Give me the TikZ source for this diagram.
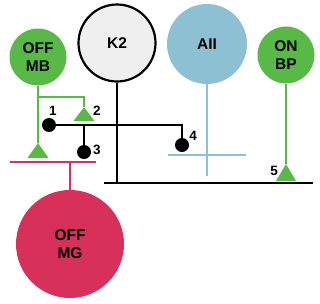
\documentclass[tikz,border=0pt]{standalone}
\usepackage{fontspec}
\setmainfont{Liberation Sans}
\usepackage{tikz}
\usetikzlibrary{calc}
\definecolor{rgGreen}{HTML}{58B947}
\definecolor{rgBlue}{HTML}{8DC0D3}
\definecolor{rgRed}{HTML}{D7305A}
\definecolor{rgGray}{HTML}{EFEFEF}
\tikzset{
  cell/.style={circle,inner sep=0pt,align=center,text=black,
    font=\bfseries\fontsize{15.5}{17.5}\selectfont},
  num/.style={inner sep=0pt,font=\bfseries\fontsize{13.5}{13.5}\selectfont},
  contact/.style={circle,fill=black,inner sep=0pt,minimum size=14pt},
  wire/.style={line width=2.5pt,draw=black},
  green wire/.style={line width=2.5pt,draw=rgGreen},
  blue wire/.style={line width=2.5pt,draw=rgBlue},
  red wire/.style={line width=2.5pt,draw=rgRed},
  synapse/.style={fill=rgGreen}
}
\begin{document}
\begin{tikzpicture}[x=1pt,y=-1pt]
\useasboundingbox (0,0) rectangle (320,303);
% cell bodies
\node[cell,fill=rgGreen,minimum size=57pt] (offmb) at (38,57) {OFF\\MB};
\node[cell,fill=rgGray,draw=black,line width=2.2pt,minimum size=77pt] (ktwo) at (117,43) {K2};
\node[cell,fill=rgBlue,minimum size=80pt] (aii) at (207,44) {AII};
\node[cell,fill=rgGreen,minimum size=57pt] (onbp) at (286,55) {ON\\BP};
\node[cell,fill=rgRed,minimum size=108pt] (offmg) at (70,244) {OFF\\MG};
% contacts
\node[contact] (dotone) at (49,125) {};
\node[contact] (dotthree) at (84,152) {};
\node[contact] (dotfour) at (182,145) {};
\coordinate (tipone) at (38,143);
\coordinate (tiptwo) at (84,107);
\coordinate (tipfive) at (286,164);
\coordinate (fork) at (38,97);
\coordinate (barL) at (104,183);
\coordinate (barR) at (313,183);
\coordinate (aiiL) at (168,155);
\coordinate (aiiR) at (246,155);
\coordinate (aiiend) at (207,176);
\coordinate (mgL) at (10,162);
\coordinate (mgR) at (96,162);
% labels
\node[num] (lone) at (53,111) {1};
\node[num] (ltwo) at (97,111) {2};
\node[num] (lthree) at (97,150) {3};
\node[num] (lfour) at (193,136) {4};
\node[num] (lfive) at (274,171) {5};
% wiring
\draw[green wire] (offmb) -- (tipone);
\draw[green wire] (fork) -| (tiptwo);
\draw[green wire] (onbp) -- (tipfive);
\fill[synapse] (tipone) -- ++(10.5,15) -- ++(-21,0) -- cycle;
\fill[synapse] (tiptwo) -- ++(10.5,14) -- ++(-21,0) -- cycle;
\fill[synapse] (tipfive) -- ++(10,17) -- ++(-20,0) -- cycle;
\draw[wire] (dotone.center) -- (dotone -| dotfour) -- (dotfour);
\draw[wire] (dotone -| dotthree) -- (dotthree);
\draw[wire] (ktwo) -- (ktwo |- barL);
\draw[wire] (barL) -- (barR);
\draw[blue wire] (aii) -- (aiiend);
\draw[blue wire] (aiiL) -- (aiiR);
\draw[red wire] (mgL) -- (mgR);
\draw[red wire] (offmg) -- (offmg |- mgL);
\end{tikzpicture}
\end{document}
